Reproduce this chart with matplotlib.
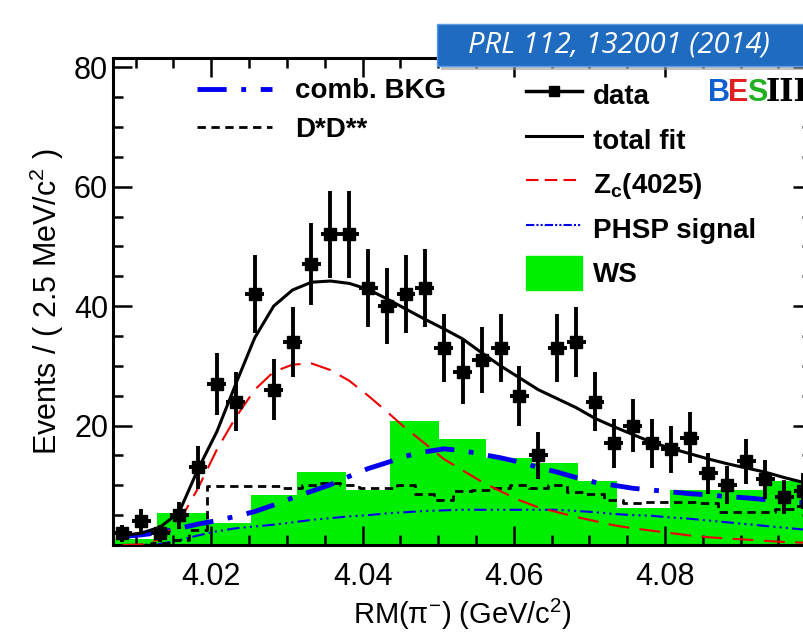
import numpy as np
import matplotlib
matplotlib.use('Agg')
from matplotlib import pyplot as plt
from matplotlib.patches import Rectangle, FancyBboxPatch
from matplotlib.lines import Line2D

# data points (bin centres, GeV/c^2) and counts
x_data = 4.00825 + 0.0025 * np.arange(37)
y_data = [2, 4, 2, 5, 13, 27, 24, 42, 26, 34, 47, 52, 52, 43, 40, 42, 43, 33, 29,
          31, 33, 25, 15, 33, 34, 24, 17, 20, 17, 16, 18, 12, 10, 14, 11, 8, 9]

# curves read at the bin centres
total_fit = [1.6, 2.0, 3.0, 5.5, 12.7, 19.0, 27.0, 34.7, 40.0, 42.7, 44.0, 44.2, 43.8,
             42.8, 41.2, 39.5, 37.8, 36.2, 34.5, 32.2, 30.0, 28.0, 26.0, 24.5, 23.0,
             21.2, 19.8, 18.5, 17.2, 16.2, 15.3, 14.4, 13.6, 12.9, 12.2, 11.3, 10.5]
zc4025 = [0.0, 0.1, 1.0, 3.9, 9.5, 16.0, 21.4, 26.0, 29.0, 30.2, 30.4, 29.3, 27.5,
          25.0, 22.3, 19.5, 17.0, 14.4, 12.5, 10.6, 9.0, 7.5, 6.3, 5.5, 4.7, 4.0,
          3.3, 2.8, 2.4, 2.0, 1.6, 1.3, 1.1, 0.9, 0.7, 0.5, 0.4]
comb_bkg = [1.4, 1.7, 2.1, 2.8, 3.5, 4.1, 4.8, 5.6, 6.7, 7.9, 9.0, 10.1, 11.5, 12.8,
            13.8, 14.9, 15.6, 16.1, 15.8, 15.2, 14.6, 13.9, 13.0, 12.2, 11.3, 10.5,
            10.0, 9.5, 9.2, 8.9, 8.6, 8.4, 8.1, 7.9, 7.6, 7.3, 7.1]
phsp = [0.0, 0.0, 0.2, 0.8, 1.6, 2.3, 2.8, 3.1, 3.4, 3.8, 4.2, 4.5, 4.8, 5.0, 5.3,
        5.5, 5.7, 5.8, 5.9, 5.9, 5.9, 5.9, 5.9, 5.9, 5.7, 5.5, 5.2, 5.0, 4.9, 4.6,
        4.4, 4.1, 3.8, 3.5, 3.2, 2.9, 2.6]
dstar_dss = [0.0, 0.0, 0.3, 0.8, 2.5, 9.8, 9.8, 9.8, 9.8, 9.5, 10.0, 10.3, 10.0, 9.5,
             9.5, 10.0, 8.5, 7.5, 9.0, 9.2, 9.5, 10.0, 9.5, 10.0, 8.8, 8.5, 7.5, 7.0,
             7.2, 7.2, 7.2, 7.0, 5.5, 5.5, 5.5, 6.0, 6.5]

# wrong-sign histogram
ws_edges = [4.0069, 4.0128, 4.0194, 4.0252, 4.0313, 4.0378, 4.0437, 4.0501, 4.0563,
            4.0624, 4.0685, 4.0736, 4.0807, 4.0868, 4.0929, 4.1000]
ws_vals = [1.0, 5.4, 3.7, 8.4, 12.2, 9.2, 20.8, 17.7, 14.6, 13.8, 10.7, 6.2, 9.2,
           9.2, 10.7]

plt.rcParams['font.family'] = ['Liberation Sans', 'DejaVu Sans']
fig = plt.figure(figsize=(8.04, 6.33), dpi=100)
ax = fig.add_axes([0.1405, 0.139, 0.87, 0.769])

ax.stairs(ws_vals, ws_edges, fill=True, color='#00ee00', lw=0, zorder=1)
ax.plot(x_data, phsp, color='#0000ee', lw=1.5, ls=(0, (6, 2, 1, 2, 1, 2, 1, 2)), zorder=2)
ax.step(x_data, dstar_dss, where='mid', color='black', lw=2, ls=(0, (3, 2)), zorder=2)
ax.plot(x_data, comb_bkg, color='#0000ee', lw=3.5, ls=(0, (6, 3, 1, 3)), zorder=3)
ax.plot(x_data, zc4025, color='#ee0000', lw=1.5, ls=(0, (10, 5)), zorder=3)
ax.plot(x_data, total_fit, color='black', lw=2.2, zorder=4)
ax.errorbar(x_data, y_data, yerr=np.sqrt(y_data), xerr=0.00125, fmt='s', ms=8,
            color='black', elinewidth=2.8, capsize=0, zorder=5)

ax.set_xlim(4.007, 4.0995)
ax.set_ylim(0, 81.5)
ax.set_xticks([4.02, 4.04, 4.06, 4.08])
ax.set_xticks(np.arange(4.01, 4.1, 0.005), minor=True)
ax.set_yticks([0, 20, 40, 60, 80])
ax.set_yticklabels(['', '20', '40', '60', '80'])
ax.set_yticks(np.arange(0, 81, 5), minor=True)
ax.tick_params(which='both', direction='in', top=True, right=True, width=1.8,
               labelsize=22)
ax.tick_params(which='major', length=14)
ax.tick_params(which='minor', length=7)
ax.tick_params(axis='x', pad=12)
for s in ax.spines.values():
    s.set_linewidth(2.2)
ax.set_xlabel(r'RM(π$^{\mathregular{-}}$) (GeV/c$^{\mathregular{2}}$)', fontsize=21)
ax.set_ylabel(r'Events / ( 2.5 MeV/c$^{\mathregular{2}}$ )', fontsize=22, labelpad=6)

# legends
h_left = [Line2D([], [], color='#0000ee', lw=3.5, ls=(0, (6, 3, 1, 3))),
          Line2D([], [], color='black', lw=2, ls=(0, (3, 2)))]
leg1 = ax.legend(h_left, ['comb. BKG', 'D*D**'], loc='upper left',
                 bbox_to_anchor=(0.085, 1.01), frameon=False, handlelength=2.7,
                 prop={'weight': 'bold', 'size': 20}, labelspacing=0.45)
ax.add_artist(leg1)
h_right = [Line2D([], [], color='black', marker='s', ms=7, lw=2.5),
           Line2D([], [], color='black', lw=2.2),
           Line2D([], [], color='#ee0000', lw=1.5, ls=(0, (6, 3))),
           Line2D([], [], color='#0000ee', lw=1.5, ls=(0, (4, 1, 1, 1, 1, 1))),
           Rectangle((0, 0), 1, 1, color='#00ee00')]
ax.legend(h_right, ['data', 'total fit', r'Z$_\mathregular{c}$(4025)', 'PHSP signal', 'WS'],
          loc='upper left', bbox_to_anchor=(0.555, 1.01), frameon=False,
          handlelength=2.0, handleheight=1.5, handletextpad=0.4,
          prop={'weight': 'bold', 'size': 20}, labelspacing=0.38)

# BESIII logo
fig.text(0.880, 0.84, 'B', color='#1060d0', fontsize=22, fontweight='bold')
fig.text(0.905, 0.84, 'E', color='#e02020', fontsize=22, fontweight='bold')
fig.text(0.929, 0.84, 'S', color='#20b020', fontsize=22, fontweight='bold')
fig.text(0.952, 0.84, 'III', color='black', fontsize=22, fontweight='bold',
         family='DejaVu Serif')

# reference banner
fig.patches.append(FancyBboxPatch((0.548, 0.890), 0.46, 0.065, boxstyle='square,pad=0',
                                  transform=fig.transFigure, facecolor='#999999',
                                  edgecolor='none', zorder=9, alpha=0.6))
fig.patches.append(FancyBboxPatch((0.543, 0.896), 0.46, 0.066, boxstyle='square,pad=0',
                                  transform=fig.transFigure, facecolor='#1f6bbf',
                                  edgecolor='#5a9ae0', lw=1, zorder=10))
fig.text(0.77, 0.929, 'PRL 112, 132001 (2014)', color='white', fontsize=21,
         style='italic', ha='center', va='center', zorder=11, family='Open Sans')

fig.savefig('out.png', dpi=100)
